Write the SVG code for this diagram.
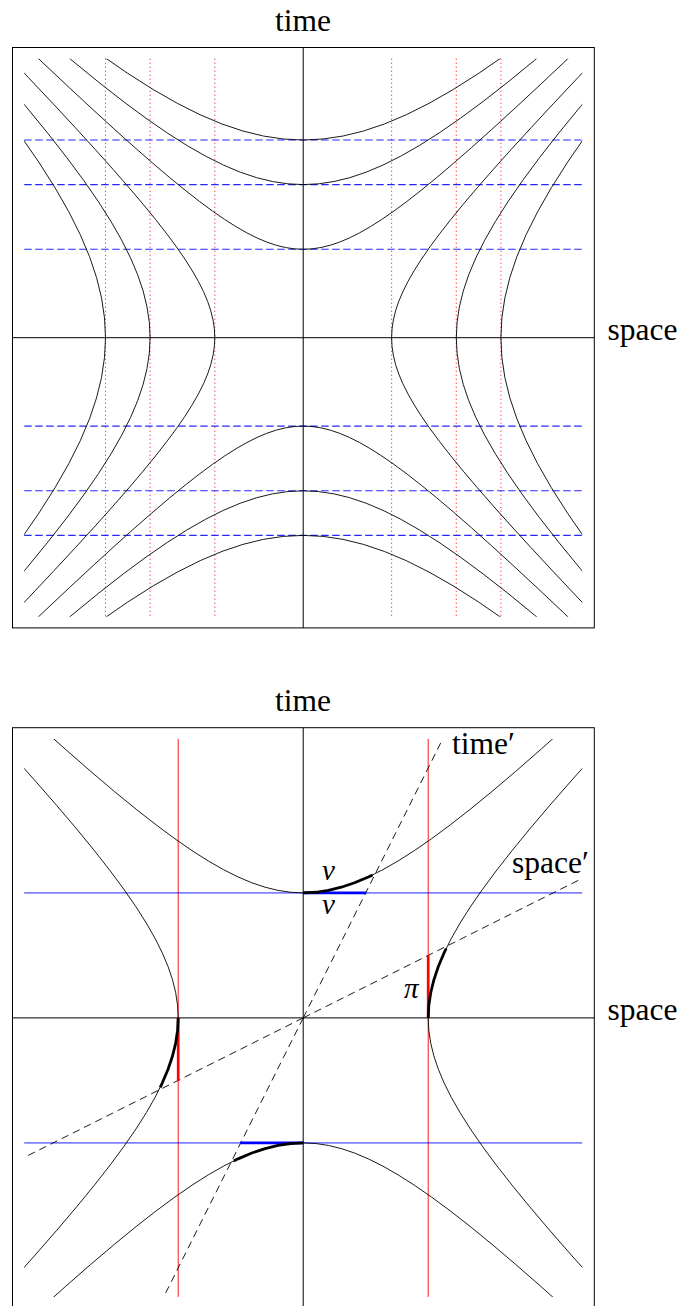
<svg xmlns="http://www.w3.org/2000/svg" width="684" height="1306" viewBox="0 0 684 1306">
<style>
.frame{fill:none;stroke:#000;stroke-width:1}
.axis{stroke:#000;stroke-width:1;fill:none}
.hyp{fill:none;stroke:#000;stroke-linejoin:round}
.bdash{stroke:#0000ff;stroke-opacity:0.85;stroke-width:1.1;stroke-dasharray:7.5 3.5;fill:none}
.rdot{stroke:#ff0000;stroke-opacity:0.9;stroke-width:1.1;stroke-dasharray:1 3;fill:none}
.bthin{stroke:#0000ff;stroke-opacity:0.5;stroke-width:1.6;fill:none}
.rthin{stroke:#ff0000;stroke-width:0.9;fill:none}
.kdash{stroke:#000;stroke-width:0.9;stroke-dasharray:7.5 5;fill:none}
.thickk{stroke:#000;stroke-width:2.8;fill:none;stroke-linejoin:round}
.thickb{stroke:#0000ff;stroke-width:2.7;fill:none}
.thickr{stroke:#ff0000;stroke-width:2.7;fill:none}
.lbl{font-family:"Liberation Serif","Times New Roman",serif;font-size:31.5px;fill:#000}
.math{font-family:"Liberation Serif","Times New Roman",serif;font-style:italic;font-size:29px;fill:#000}
</style>
<defs>
<path id="ub" fill="none" d="M-3.62686,-3.76220 L-3.26816,-3.41773 L-2.94217,-3.10747 L-2.64563,-2.82832 L-2.37557,-2.57746 L-2.12928,-2.35241 L-1.90430,-2.15090 L-1.69838,-1.97091 L-1.50946,-1.81066 L-1.33565,-1.66852 L-1.17520,-1.54308 L-1.02652,-1.43309 L-0.88811,-1.33743 L-0.75858,-1.25517 L-0.63665,-1.18547 L-0.52110,-1.12763 L-0.41075,-1.08107 L-0.30452,-1.04534 L-0.20134,-1.02007 L-0.10017,-1.00500 L0,-1 L0.10017,-1.00500 L0.20134,-1.02007 L0.30452,-1.04534 L0.41075,-1.08107 L0.52110,-1.12763 L0.63665,-1.18547 L0.75858,-1.25517 L0.88811,-1.33743 L1.02652,-1.43309 L1.17520,-1.54308 L1.33565,-1.66852 L1.50946,-1.81066 L1.69838,-1.97091 L1.90430,-2.15090 L2.12928,-2.35241 L2.37557,-2.57746 L2.64563,-2.82832 L2.94217,-3.10747 L3.26816,-3.41773 L3.62686,-3.76220"/>
<clipPath id="clipTop"><rect x="24.2" y="58.7" width="558" height="558"/></clipPath>
<clipPath id="clipBot"><rect x="24.2" y="738.9" width="558" height="558"/></clipPath>
</defs>

<g id="panel-top">
  <rect class="frame" x="12.5" y="47.5" width="581.8" height="580.4"/>
  <g id="top-axes">
    <line class="axis" x1="303.2" y1="47.5" x2="303.2" y2="627.9"/>
    <line class="axis" x1="12.5" y1="337.7" x2="594.3" y2="337.7"/>
  </g>
  <g id="top-red-dotted">
    <line class="rdot" x1="105.5" y1="58.7" x2="105.5" y2="616.7"/>
    <line class="rdot" x1="150.1" y1="58.7" x2="150.1" y2="616.7"/>
    <line class="rdot" x1="214.8" y1="58.7" x2="214.8" y2="616.7"/>
    <line class="rdot" x1="391.6" y1="58.7" x2="391.6" y2="616.7"/>
    <line class="rdot" x1="456.3" y1="58.7" x2="456.3" y2="616.7"/>
    <line class="rdot" x1="500.9" y1="58.7" x2="500.9" y2="616.7"/>
  </g>
  <g id="top-blue-dashed">
    <line class="bdash" x1="24.2" y1="140.0" x2="582.2" y2="140.0"/>
    <line class="bdash" x1="24.2" y1="184.6" x2="582.2" y2="184.6"/>
    <line class="bdash" x1="24.2" y1="249.3" x2="582.2" y2="249.3"/>
    <line class="bdash" x1="24.2" y1="426.1" x2="582.2" y2="426.1"/>
    <line class="bdash" x1="24.2" y1="490.8" x2="582.2" y2="490.8"/>
    <line class="bdash" x1="24.2" y1="535.4" x2="582.2" y2="535.4"/>
  </g>
  <g id="top-hyperbolas" clip-path="url(#clipTop)">
    <use href="#ub" class="hyp" style="stroke-width:0.0102" transform="translate(303.2 337.7) rotate(0) scale(88.4)"/>
    <use href="#ub" class="hyp" style="stroke-width:0.0102" transform="translate(303.2 337.7) rotate(90) scale(88.4)"/>
    <use href="#ub" class="hyp" style="stroke-width:0.0102" transform="translate(303.2 337.7) rotate(180) scale(88.4)"/>
    <use href="#ub" class="hyp" style="stroke-width:0.0102" transform="translate(303.2 337.7) rotate(270) scale(88.4)"/>
    <use href="#ub" class="hyp" style="stroke-width:0.00588" transform="translate(303.2 337.7) rotate(0) scale(153.1)"/>
    <use href="#ub" class="hyp" style="stroke-width:0.00588" transform="translate(303.2 337.7) rotate(90) scale(153.1)"/>
    <use href="#ub" class="hyp" style="stroke-width:0.00588" transform="translate(303.2 337.7) rotate(180) scale(153.1)"/>
    <use href="#ub" class="hyp" style="stroke-width:0.00588" transform="translate(303.2 337.7) rotate(270) scale(153.1)"/>
    <use href="#ub" class="hyp" style="stroke-width:0.00455" transform="translate(303.2 337.7) rotate(0) scale(197.7)"/>
    <use href="#ub" class="hyp" style="stroke-width:0.00455" transform="translate(303.2 337.7) rotate(90) scale(197.7)"/>
    <use href="#ub" class="hyp" style="stroke-width:0.00455" transform="translate(303.2 337.7) rotate(180) scale(197.7)"/>
    <use href="#ub" class="hyp" style="stroke-width:0.00455" transform="translate(303.2 337.7) rotate(270) scale(197.7)"/>
  </g>
  <text id="top-time-label" class="lbl" x="303" y="30.7" text-anchor="middle">time</text>
  <text id="top-space-label" class="lbl" x="607.5" y="340.2">space</text>
</g>

<g id="panel-bottom">
  <rect class="frame" x="12.5" y="727.7" width="581.8" height="580.4"/>
  <g id="bottom-axes">
    <line class="axis" x1="303.2" y1="727.7" x2="303.2" y2="1308"/>
    <line class="axis" x1="12.5" y1="1017.9" x2="594.3" y2="1017.9"/>
  </g>
  <g id="bottom-thin-lines">
    <line class="rthin" x1="178.2" y1="738.9" x2="178.2" y2="1296.9"/>
    <line class="rthin" x1="428.2" y1="738.9" x2="428.2" y2="1296.9"/>
    <line class="bthin" x1="24.2" y1="892.9" x2="582.2" y2="892.9"/>
    <line class="bthin" x1="24.2" y1="1142.9" x2="582.2" y2="1142.9"/>
  </g>
  <g id="bottom-hyperbolas" clip-path="url(#clipBot)">
    <use href="#ub" class="hyp" style="stroke-width:0.0072" transform="translate(303.2 1017.9) rotate(0) scale(125)"/>
    <use href="#ub" class="hyp" style="stroke-width:0.0072" transform="translate(303.2 1017.9) rotate(90) scale(125)"/>
    <use href="#ub" class="hyp" style="stroke-width:0.0072" transform="translate(303.2 1017.9) rotate(180) scale(125)"/>
    <use href="#ub" class="hyp" style="stroke-width:0.0072" transform="translate(303.2 1017.9) rotate(270) scale(125)"/>
  </g>
  <g id="boosted-axes">
    <line class="kdash" x1="303.2" y1="1017.9" x2="442.7" y2="738.9"/>
    <line class="kdash" x1="303.2" y1="1017.9" x2="163.7" y2="1296.9"/>
    <line class="kdash" x1="303.2" y1="1017.9" x2="582.2" y2="878.4"/>
    <line class="kdash" x1="303.2" y1="1017.9" x2="24.2" y2="1157.4"/>
  </g>
  <g id="highlights">
    <line class="thickb" x1="303.2" y1="892.9" x2="366.2" y2="892.9"/>
    <line class="thickb" x1="240.2" y1="1142.9" x2="303.2" y2="1142.9"/>
    <line class="thickr" x1="428.2" y1="1017.9" x2="428.2" y2="954.9"/>
    <line class="thickr" x1="178.2" y1="1017.9" x2="178.2" y2="1080.9"/>
    <polyline class="thickk" points="303.2,892.9 315.72,892.27 328.37,890.39 341.27,887.23 354.54,882.77 368.34,876.95 372.6,874.93"/>
    <polyline class="thickk" points="428.2,1017.9 428.83,1005.38 430.71,992.73 433.87,979.83 438.33,966.56 444.15,952.76 446.17,948.5"/>
    <polyline class="thickk" points="178.2,1017.9 177.57,1030.42 175.69,1043.07 172.53,1055.97 168.07,1069.24 162.25,1083.04 160.23,1087.3"/>
    <polyline class="thickk" points="303.2,1142.9 290.68,1143.53 278.03,1145.41 265.13,1148.57 251.86,1153.03 238.06,1158.85 233.8,1160.87"/>
  </g>
  <text id="bottom-time-label" class="lbl" x="303" y="710.9" text-anchor="middle">time</text>
  <text id="bottom-space-label" class="lbl" x="607.5" y="1020.4">space</text>
  <text id="time-prime-label" class="lbl" x="452" y="754.3">time′</text>
  <text id="space-prime-label" class="lbl" x="512" y="873">space′</text>
  <text id="nu-label" class="math" x="322" y="880">ν</text>
  <text id="v-label" class="math" x="322" y="914">v</text>
  <text id="pi-label" class="math" x="404" y="998.3">π</text>
</g>
</svg>
